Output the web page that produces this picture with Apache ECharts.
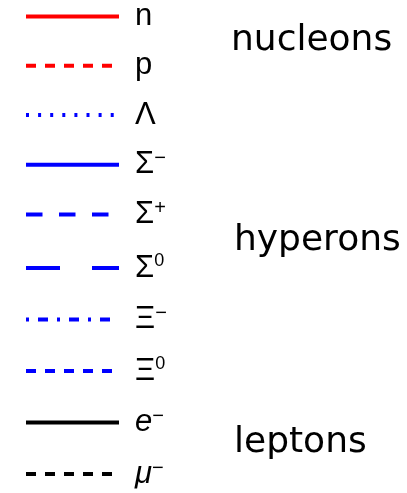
<!DOCTYPE html>
<html>
<head>
<meta charset="utf-8">
<script src="https://cdn.jsdelivr.net/npm/echarts@6/dist/echarts.min.js"></script>
<style>
  html, body { margin: 0; padding: 0; background: #ffffff; }
  #chart { width: 407px; height: 493px; }
</style>
</head>
<body>
<div id="chart"></div>
<script>
// Particle species shown in the key, top to bottom
const particles = ['n', 'p', 'Λ', 'Σ⁻', 'Σ⁺', 'Σ⁰', 'Ξ⁻', 'Ξ⁰', 'e⁻', 'μ⁻'];
// Rich-text markup for each species label
const particleLabels = [
  '{b|n}', '{b|p}', '{b|Λ}',
  '{b|Σ}{m|−}', '{b|Σ}{m|+}', '{b|Σ}{z|0}',
  '{b|Ξ}{m|−}', '{b|Ξ}{z|0}',
  '{i|e}{m|−}', '{i|μ}{m|−}'
];
// Family headings
const groups = ['nucleons', 'hyperons', 'leptons'];

// Line styles per species
const lineColors = [
  '#ff0000', '#ff0000',
  '#0000ff', '#0000ff', '#0000ff', '#0000ff', '#0000ff', '#0000ff',
  '#000000', '#000000'
];
const lineDashes = [
  'solid', [10, 9], [3, 9.1], 'solid', [16.5, 16.5], [34, 32],
  [3, 9, 10, 9], [10, 9], 'solid', [10, 9]
];
// Heading placement (left x, middle y)
const groupPos = [[231, 40.5], [234, 240.5], [234, 443]];
// The key is laid out in two stacked blocks: [first index, end index, top, gap]
const keyBlocks = [[0, 5, 1, 18.25], [5, 10, 252, 20]];

const labelMap = {};
particles.forEach((p, i) => { labelMap[p] = particleLabels[i]; });

const chart = echarts.init(document.getElementById('chart'), null, { renderer: 'canvas' });

const series = particles.map((name, i) => ({
  name: name,
  type: 'line',
  data: [],
  symbol: 'none',
  showSymbol: false,
  lineStyle: { color: lineColors[i], width: 4, type: lineDashes[i] },
  itemStyle: { color: lineColors[i] }
}));

const labelFont = '"Liberation Sans", Arial, sans-serif';

const legends = keyBlocks.map(([from, to, top, gap]) => ({
  orient: 'vertical',
  left: 24,
  top: top,
  padding: 0,
  itemWidth: 93,
  itemHeight: 32,
  itemGap: gap,
  selectedMode: false,
  itemStyle: { opacity: 0, borderWidth: 0 },
  lineStyle: { width: 4, type: 'inherit', color: 'inherit', cap: 'butt', opacity: 1 },
  formatter: (name) => labelMap[name],
  textStyle: {
    padding: [0, 0, 0, 11],
    color: '#000000',
    rich: {
      b: { fontFamily: labelFont, fontSize: 31, lineHeight: 32, color: '#000000' },
      i: { fontFamily: labelFont, fontSize: 31, fontStyle: 'italic', lineHeight: 32, color: '#000000' },
      m: { fontFamily: labelFont, fontSize: 20, lineHeight: 20, verticalAlign: 'top', color: '#000000' },
      z: { fontFamily: labelFont, fontSize: 18, lineHeight: 10, verticalAlign: 'top', color: '#000000' }
    }
  },
  data: particles.slice(from, to)
}));

chart.setOption({
  animation: false,
  backgroundColor: '#ffffff',
  grid: { left: 0, right: 0, top: 0, bottom: 0, show: false },
  xAxis: { type: 'value', show: false },
  yAxis: { type: 'value', show: false },
  legend: legends,
  graphic: groups.map((g, i) => ({
    type: 'text',
    x: groupPos[i][0],
    y: groupPos[i][1],
    silent: true,
    style: {
      text: g,
      font: '36px "DejaVu Sans", sans-serif',
      fill: '#000000',
      verticalAlign: 'middle',
      align: 'left'
    }
  })),
  series: series
});
</script>
</body>
</html>
